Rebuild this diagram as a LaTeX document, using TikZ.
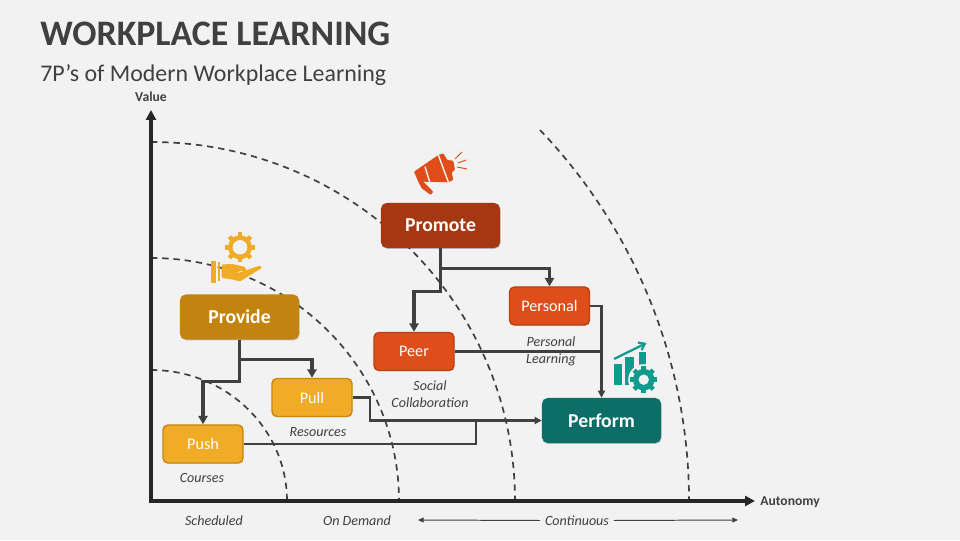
\documentclass[tikz,border=0pt]{standalone}
\usepackage{fontspec}
\setmainfont{Carlito}
\usetikzlibrary{arrows.meta,positioning,calc,shadows}
\definecolor{pagegray}{RGB}{242,242,242}
\definecolor{inkgray}{RGB}{64,64,64}
\definecolor{cpromote}{RGB}{165,56,18}
\definecolor{cprovide}{RGB}{194,132,14}
\definecolor{corange}{RGB}{222,77,26}
\definecolor{corangedk}{RGB}{184,66,20}
\definecolor{cyellow}{RGB}{240,171,39}
\definecolor{cyellowdk}{RGB}{200,134,18}
\definecolor{cperform}{RGB}{12,110,102}
\definecolor{cteal}{RGB}{18,154,141}
\newcommand{\gearicon}[5]{% x, y, outer radius, hole radius, colour
  \fill[#5] (#1,#2) circle (#3*0.8);
  \foreach \ang in {0,45,...,315}
    \draw[#5, line width=3.2pt] ($(#1,#2)+(\ang:#3*0.7)$) -- ($(#1,#2)+(\ang:#3)$);
  \fill[pagegray] (#1,#2) circle (#4);
}
\tikzset{
  mainbox/.style={rounded corners=4pt, minimum width=2.975cm, minimum height=1.125cm, inner sep=0pt,
    text=white, font=\fontsize{14}{17}\selectfont\bfseries,
    drop shadow={shadow xshift=0.4pt, shadow yshift=-0.6pt, fill=black, opacity=0.2}},
  subbox/.style={rounded corners=3.5pt, minimum width=2cm, minimum height=0.95cm, inner sep=0pt,
    text=white, line width=1pt, font=\fontsize{11.5}{14}\selectfont,
    drop shadow={shadow xshift=0.3pt, shadow yshift=-0.5pt, fill=black, opacity=0.15}},
  note/.style={text=inkgray, align=center, font=\fontsize{10}{12}\selectfont\itshape},
  axislabel/.style={text=inkgray, font=\fontsize{9.7}{11}\selectfont\bfseries},
  heavyline/.style={inkgray, line width=2.2pt, -{Triangle[length=6pt,width=6.5pt]}},
  thinline/.style={inkgray, line width=1.5pt},
  axisline/.style={black!85, line width=2.6pt, -{Triangle[length=7pt,width=7pt]}},
  ring/.style={inkgray, line width=1.2pt, dash pattern=on 4.5pt off 3.5pt},
}
\begin{document}
\begin{tikzpicture}[x=0.025cm,y=0.025cm]
  \fill[pagegray] (0,0) rectangle (960,540);
  \useasboundingbox (0,0) rectangle (960,540);
  \node[anchor=base west, inner sep=0pt, text=inkgray, font=\fontsize{25.5}{30}\selectfont\bfseries] (title) at (40,494) {WORKPLACE LEARNING};
  \node[anchor=base west, inner sep=0pt, text=inkgray, font=\fontsize{17}{20}\selectfont] (subtitle) at (40,458.5) {7P’s of Modern Workplace Learning};
  % rings
  \foreach \rx/\ry in {136/131,248/243,364/359}
    \draw[ring] (151,39+\ry) arc[start angle=90, end angle=0, x radius=\rx, y radius=\ry];
  \draw[ring] (540,410) arc[start angle=43.7, end angle=0, radius=538];
  % axes
  \coordinate (origin) at (151,39);
  \coordinate (valuetip) at (151,430);
  \coordinate (autotip) at (755,39);
  \draw[axisline] (origin) -- (valuetip);
  \draw[axisline] ($(origin)+(-2,0)$) -- (autotip);
  \node[axislabel] (value) at (151,443) {Value};
  \node[axislabel] (autonomy) at (790,38) {Autonomy};
  % boxes
  \node[mainbox, fill=cpromote] (promote) at (440.5,314.5) {Promote};
  \node[mainbox, fill=cprovide] (provide) at (239.5,223) {Provide};
  \node[mainbox, fill=cperform] (perform) at (601.5,119.5) {Perform};
  \node[subbox, fill=corange, draw=corangedk] (personal) at (549.5,234) {Personal};
  \node[subbox, fill=corange, draw=corangedk] (peer) at (414,188.5) {Peer};
  \node[subbox, fill=cyellow, draw=cyellowdk] (pull) at (312,142.5) {Pull};
  \node[subbox, fill=cyellow, draw=cyellowdk] (push) at (203,96) {Push};
  % connectors
  \draw[heavyline] (promote.south) -- ++(0,-20) -| (personal.north);
  \draw[heavyline] (promote.south) -- ++(0,-43) -| (peer.north);
  \draw[heavyline] (provide.south) -- ++(0,-20) -| (pull.north);
  \draw[heavyline] (provide.south) -- ++(0,-42) -| (push.north);
  \coordinate (merge) at (476,119.5);
  \draw[thinline] (pull.east) -- ++(17,0) |- (merge);
  \draw[thinline] (push.east) -| (merge);
  \draw[inkgray, line width=1.8pt, -{Triangle[length=5pt,width=5pt]}] (merge) -- (perform.west);
  \draw[thinline] (peer.east) -- (peer.east -| perform.north);
  \draw[thinline, -{Triangle[length=5pt,width=5pt]}] (personal.east) -| (perform.north);
  % notes
  \node[note] (learning) at (551,188.5) {Personal\\Learning};
  \node[note] (social) at (430,145.5) {Social\\Collaboration};
  \node[note] (resources) at (318,108) {Resources};
  \node[note] (courses) at (202,62) {Courses};
  \node[note] (scheduled) at (214,19.5) {Scheduled};
  \node[note] (ondemand) at (357,19.5) {On Demand};
  \node[note] (continuous) at (577,19.5) {Continuous};
  \coordinate (contleft) at (418,20);
  \coordinate (contright) at (738,20);
  \draw[inkgray, line width=0.7pt, -{Triangle[length=4pt,width=3.5pt]}] (continuous.west) -- (contleft);
  \draw[inkgray, line width=0.7pt, -{Triangle[length=4pt,width=3.5pt]}] (continuous.east) -- (contright);
  % megaphone
  \fill[corange, rounded corners=0.6pt] (414,368.3) -- (438.3,385) -- (443.3,386.7) -- (447.3,380)
    -- (453.3,379.3) -- (455,370) -- (451.7,367.7) -- (453.3,360) -- (448.3,357.7) -- (423.3,358.3)
    -- (433.3,348.3) -- (430.7,345) -- (421.7,351.7) -- (418.3,358.3) -- cycle;
  \draw[pagegray, line width=1pt] (425,373.3) -- (430,357);
  \draw[pagegray, line width=1pt] (438.3,385) -- (448.3,358);
  \draw[corange, line width=0.7pt] (455,381) -- (462,388);
  \draw[corange, line width=0.7pt] (458,377) -- (466,380);
  \draw[corange, line width=0.7pt] (457,373) -- (467,371);
  % hand with gear
  \gearicon{240}{292.7}{15}{7.3}{cyellow}
  \fill[cyellow] (211,257) rectangle (216,279);
  \fill[cyellow] (217.5,259) rectangle (220,278);
  \fill[cyellow, rounded corners=1pt] (221.5,275.5) -- (232,276) -- (245.5,273) -- (246.5,269.5)
    -- (238,268.5) -- (237,266.5) -- (260,274.5) -- (262.5,272.5) -- (240,258.5) -- (233,260.5) -- (221.5,262) -- cycle;
  % chart with gear
  \fill[cteal] (614,154.7) rectangle (622,176);
  \fill[cteal] (625.3,154.7) rectangle (634,182.7);
  \fill[cteal] (638.7,154.7) rectangle (646.3,188);
  \draw[cteal, line width=1.6pt, -{Straight Barb[length=4pt,width=6pt]}] (614,181) -- (646.5,197);
  \fill[pagegray] (643.7,160.3) circle (15.5);
  \gearicon{643.7}{160.3}{13.5}{5.2}{cteal}
\end{tikzpicture}
\end{document}
